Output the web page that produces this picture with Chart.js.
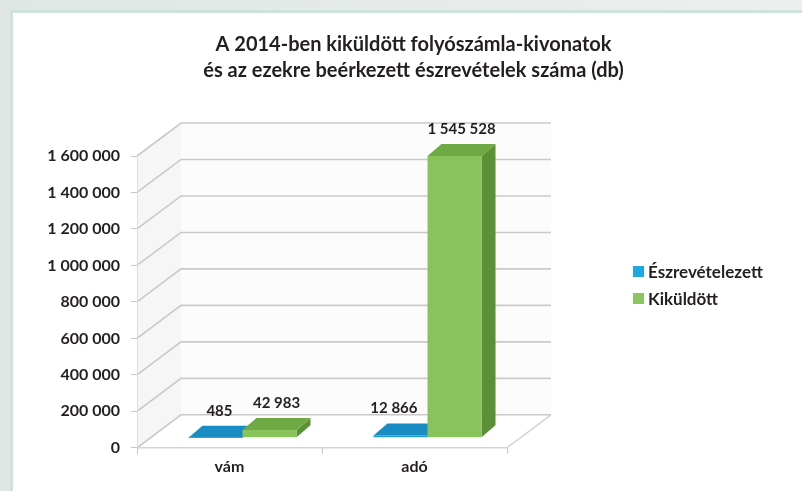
<!DOCTYPE html>
<html>
<head>
    <meta charset="utf-8">
    <title>Folyószámla-kivonatok 2014</title>
    <script src="https://cdn.jsdelivr.net/npm/chart.js"></script>
    <style>
        body {
            margin: 0;
            width: 802px;
            height: 491px;
            overflow: hidden;
            background: linear-gradient(90deg, #dfe6e4, #ecf0ef);
            font-family: Lato, "Open Sans", sans-serif;
        }

        #panel {
            position: absolute;
            left: 10px;
            top: 10px;
            right: -10px;
            bottom: -10px;
            background: #ffffff;
            border-left: 3px solid #cfe2dc;
            border-top: 3px solid #cfe2dc;
        }

        #chart {
            position: absolute;
            left: 0;
            top: 0;
        }

        #legend {
            position: absolute;
            left: 633px;
            top: 261px;
            font: bold 17px Lato, sans-serif;
            color: #231f20;
        }

        .item {
            display: flex;
            align-items: center;
            height: 20px;
            margin-bottom: 7px;
        }

        .box {
            width: 11px;
            height: 11px;
            margin-right: 4px;
        }
    </style>
</head>
<body>
    <div id="panel"></div>
    <canvas id="chart" width="802" height="491"></canvas>
    <div id="legend"></div>

    <script>
        // data
        const categories = ['vám', 'adó'];
        const seriesNames = ['Észrevételezett', 'Kiküldött'];
        const eszrevetelezett = [485, 12866];
        const kikuldott = [42983, 1545528];
        const yMax = 1600000;
        const yStep = 200000;

        // colours: front, top, side
        const blue = ['#1e9fd8', '#1a8cc4', '#177aab'];
        const green = ['#88c35c', '#6fa944', '#5b9134'];

        // 3d offsets
        const OX = 13, OY = -10;   // bars sit a bit back from the front plane
        const BX = 14, BY = 12;    // bar depth
        const DX = 44, DY = 33;    // wall depth

        function fmt(n) {
            return String(n).replace(/\B(?=(\d{3})+(?!\d))/g, ' ');
        }

        const faces = [blue, green];

        const depth3d = {
            id: 'depth3d',
            beforeDatasetsDraw(chart) {
                const ctx = chart.ctx;
                const a = chart.chartArea;
                const y = chart.scales.y;
                const top = y.getPixelForValue(yMax);

                ctx.save();
                // walls and floor
                ctx.fillStyle = '#f6f6f6';
                ctx.beginPath();
                ctx.moveTo(a.left, top);
                ctx.lineTo(a.left + DX, top - DY);
                ctx.lineTo(a.left + DX, a.bottom - DY);
                ctx.lineTo(a.left, a.bottom);
                ctx.closePath();
                ctx.fill();
                ctx.fillStyle = '#fcfcfc';
                ctx.fillRect(a.left + DX, top - DY, a.right - a.left, a.bottom - top);

                ctx.strokeStyle = '#c9c9c9';
                ctx.lineWidth = 1.6;
                y.ticks.forEach(t => {
                    const py = y.getPixelForValue(t.value);
                    ctx.beginPath();
                    ctx.moveTo(a.left, py);
                    ctx.lineTo(a.left + DX, py - DY);
                    ctx.lineTo(a.right + DX, py - DY);
                    ctx.stroke();
                });
                ctx.strokeStyle = '#d4d4d4';
                ctx.beginPath();
                ctx.moveTo(a.left, a.bottom);
                ctx.lineTo(a.right, a.bottom);
                ctx.lineTo(a.right + DX, a.bottom - DY);
                ctx.stroke();
                ctx.strokeStyle = '#dedede';
                ctx.lineWidth = 1;
                ctx.beginPath();
                ctx.moveTo(a.left + 0.5, top);
                ctx.lineTo(a.left + 0.5, a.bottom);
                ctx.stroke();

                // top and side faces of the bars
                chart.data.datasets.forEach((ds, i) => {
                    const meta = chart.getDatasetMeta(i);
                    meta.data.forEach(el => {
                        const l = el.x - el.width / 2 + OX;
                        const r = el.x + el.width / 2 + OX;
                        const t = el.y + OY;
                        const b = el.base + OY;
                        ctx.fillStyle = faces[i][2];
                        ctx.beginPath();
                        ctx.moveTo(r, t);
                        ctx.lineTo(r + BX, t - BY);
                        ctx.lineTo(r + BX, b - BY);
                        ctx.lineTo(r, b);
                        ctx.closePath();
                        ctx.fill();
                        ctx.fillStyle = faces[i][1];
                        ctx.beginPath();
                        ctx.moveTo(l, t);
                        ctx.lineTo(r, t);
                        ctx.lineTo(r + BX, t - BY);
                        ctx.lineTo(l + BX, t - BY);
                        ctx.closePath();
                        ctx.fill();
                    });
                });
                ctx.restore();

                // front faces drawn by chart.js, shifted back
                ctx.save();
                ctx.translate(OX, OY);
            },
            afterDatasetsDraw(chart) {
                const ctx = chart.ctx;
                ctx.restore();

                ctx.save();
                ctx.font = 'bold 15px Lato, sans-serif';
                ctx.fillStyle = '#231f20';
                ctx.textAlign = 'center';
                ctx.textBaseline = 'middle';
                chart.data.datasets.forEach((ds, i) => {
                    const meta = chart.getDatasetMeta(i);
                    meta.data.forEach((el, j) => {
                        const text = fmt(ds.data[j]);
                        const w = ctx.measureText(text).width;
                        let x = el.x + OX + BX / 2;
                        const ly = el.y + OY - BY - 15;
                        // keep the label clear of a taller bar on its right
                        const next = chart.data.datasets[i + 1];
                        if (next) {
                            const nel = chart.getDatasetMeta(i + 1).data[j];
                            const nl = nel.x - nel.width / 2 + OX;
                            if (nel.y + OY - BY < ly + 10 && x + w / 2 > nl - 10) {
                                x = nl - 10 - w / 2;
                            }
                        }
                        ctx.fillText(text, x, ly);
                    });
                });
                ctx.restore();
            }
        };

        const chart = new Chart(document.getElementById('chart'), {
            type: 'bar',
            data: {
                labels: categories,
                datasets: [{
                    label: seriesNames[0],
                    data: eszrevetelezett,
                    backgroundColor: blue[0]
                }, {
                    label: seriesNames[1],
                    data: kikuldott,
                    backgroundColor: green[0]
                }]
            },
            options: {
                responsive: false,
                animation: false,
                layout: {
                    padding: { left: 25, top: 20, right: 0, bottom: 12 }
                },
                datasets: {
                    bar: {
                        categoryPercentage: 0.584,
                        barPercentage: 1,
                        borderWidth: 0,
                        clip: false
                    }
                },
                scales: {
                    x: {
                        grid: {
                            offset: true,
                            drawOnChartArea: false,
                            tickLength: 6,
                            color: '#c4c4c4'
                        },
                        border: { display: false },
                        ticks: {
                            padding: 3,
                            color: '#231f20',
                            font: { family: 'Lato', size: 16, weight: 'bold' }
                        }
                    },
                    y: {
                        min: 0,
                        max: yMax,
                        afterFit: s => { s.width = 112; },
                        grid: {
                            drawOnChartArea: false,
                            tickLength: 6,
                            color: '#c4c4c4'
                        },
                        border: { display: false },
                        ticks: {
                            stepSize: yStep,
                            padding: 11,
                            color: '#231f20',
                            font: { family: 'Lato', size: 16, weight: 'bold' },
                            callback: v => fmt(v)
                        }
                    },
                    gap: {
                        position: 'right',
                        afterFit: s => { s.width = 295; },
                        grid: { display: false },
                        border: { display: false },
                        ticks: { display: false }
                    }
                },
                plugins: {
                    legend: { display: false },
                    tooltip: { enabled: false },
                    title: {
                        display: true,
                        text: ['A 2014-ben kiküldött folyószámla-kivonatok',
                               'és az ezekre beérkezett észrevételek száma (db)'],
                        color: '#231f20',
                        font: { family: 'Lato', size: 20, weight: 'bold', lineHeight: 26 / 20 },
                        padding: { top: 12, bottom: 72 }
                    }
                }
            },
            plugins: [depth3d]
        });

        // legend
        const legend = document.getElementById('legend');
        seriesNames.forEach((name, i) => {
            const item = document.createElement('div');
            item.className = 'item';
            item.innerHTML = '<span class="box" style="background:' + (i ? '#8dc563' : '#1fa8e0') + '"></span>' + name;
            legend.appendChild(item);
        });
    </script>
</body>
</html>
